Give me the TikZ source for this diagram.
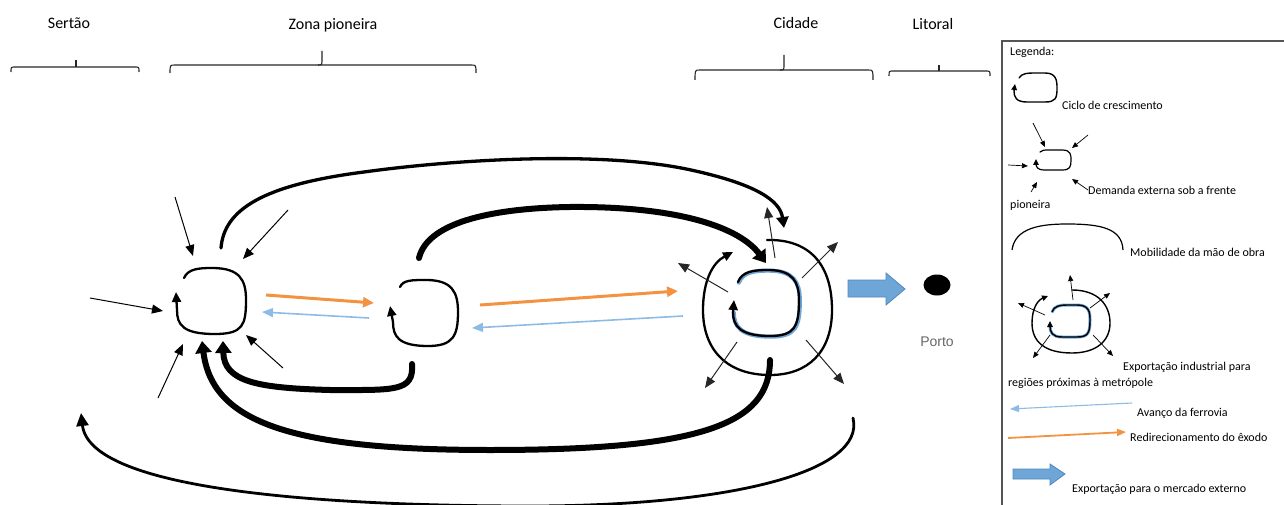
\documentclass[tikz,border=0pt]{standalone}
\usepackage{fontspec}
\setmainfont{Carlito}
\newfontfamily\portofont{Liberation Sans}
\usetikzlibrary{arrows.meta,shapes.geometric}
\definecolor{exodo}{HTML}{F39240}
\definecolor{ferrovia}{HTML}{8DBBE6}
\definecolor{exportblue}{HTML}{6FA6D8}
\definecolor{exportedge}{HTML}{4F86BF}
\definecolor{legframe}{HTML}{555555}

\begin{document}
\begin{tikzpicture}[x=1pt,y=-1pt,
  header/.style={font=\fontsize{16}{18}\selectfont, inner sep=0pt},
  legtext/.style={font=\fontsize{12}{14}\selectfont, anchor=west, inner sep=0pt},
  bracket/.style={line width=1.1pt, draw=black!85},
  growloop/.style={line width=2.3pt, line cap=round, -{Triangle[length=10pt,width=9pt]}},
  minigrow/.style={line width=1.4pt, line cap=round, -{Triangle[length=6pt,width=5.5pt]}},
  push/.style={line width=1pt, -{Triangle[length=11pt,width=9pt]}},
  minipush/.style={line width=0.7pt, -{Triangle[length=6pt,width=5pt]}},
  flow/.style={line width=6pt, line cap=round, -{Triangle[length=12pt,width=16pt]}},
  midflow/.style={line width=3.3pt, line cap=round, -{Triangle[length=11pt,width=12pt]}},
  longflow/.style={line width=2.8pt, line cap=round, -{Triangle[length=13pt,width=12pt]}},
  exodus/.style={draw=exodo, line width=3pt, -{Triangle[length=11pt,width=10pt]}},
  railway/.style={draw=ferrovia, line width=1.6pt, -{Triangle[length=11pt,width=9pt]}},
  blockarrow/.style={fill=exportblue, draw=exportedge, line width=0.8pt},
]
\useasboundingbox (0,0) rectangle (1284,505);

% ---------- region headers and brackets ----------
\node[header] (hsertao) at (69,23) {Sertão};
\node[header] (hzona)   at (333,25) {Zona pioneira};
\node[header] (hcidade) at (796,23) {Cidade};
\node[header] (hlitoral) at (933,24) {Litoral};

\draw[bracket] (11,72) .. controls (11,67) .. (15,67) -- (135,67) .. controls (139,67) .. (139,72);
\draw[bracket] (76,67) -- (76,60);
\draw[bracket] (170,73) .. controls (170,65) .. (175,65) -- (471,65) .. controls (476,65) .. (476,73);
\draw[bracket] (318,65) .. controls (322,65) .. (322,59) -- (322,51);
\draw[bracket] (695,80) .. controls (695,70) .. (700,70) -- (868,70) .. controls (873,70) .. (873,80);
\draw[bracket] (780,70) .. controls (784,70) .. (784,64) -- (784,55);
\draw[bracket] (889,76) .. controls (889,71) .. (893,71) -- (986,71) .. controls (990,71) .. (990,76);
\draw[bracket] (939,71) -- (939,65);

% ---------- anchor points of the three growth cycles ----------
\coordinate (sertao) at (212,301);
\coordinate (zona) at (425,312);
\coordinate (cidade) at (767,305);

% ---------- growth cycle: sertão ----------
\draw[growloop] (184,278) .. controls (188,269) and (198,268) .. (212,268)
  .. controls (240,268) and (246,280) .. (246,300) .. controls (246,325) and (243,334) .. (215,334)
  .. controls (183,334) and (177,325) .. (177,310) -- (176,292);

% external demand pushing on the sertão cycle
\coordinate (dN1) at (175,197);  \coordinate (dN1t) at (193,256);
\coordinate (dN2) at (288,210);  \coordinate (dN2t) at (243,259);
\coordinate (dW)  at (90,298);   \coordinate (dWt)  at (163,311);
\coordinate (dS1) at (158,398);  \coordinate (dS1t) at (183,344);
\coordinate (dS2) at (283,368);  \coordinate (dS2t) at (246,335);
\draw[push] (dN1) -- (dN1t);
\draw[push] (dN2) -- (dN2t);
\draw[push] (dW) -- (dWt);
\draw[push] (dS1) -- (dS1t);
\draw[push] (dS2) -- (dS2t);

% ---------- growth cycle: zona pioneira ----------
\draw[growloop] (400,287) .. controls (403,280) and (412,280) .. (426,280)
  .. controls (452,280) and (458,292) .. (458,312) .. controls (458,336) and (453,346) .. (428,346)
  .. controls (398,346) and (393,336) .. (393,322) -- (390,306);

% ---------- growth cycle: cidade (industrial export) ----------
\draw[exportblue, line width=4.2pt, line cap=round, xshift=0.8pt, yshift=-0.6pt] (738,282) .. controls (742,272) and (752,270) .. (768,270)
  .. controls (793,270) and (799,282) .. (799,300) .. controls (799,326) and (795,336) .. (770,336)
  .. controls (740,336) and (733,326) .. (733,312);
\draw[growloop, line width=2.3pt] (738,282) .. controls (742,272) and (752,270) .. (768,270)
  .. controls (793,270) and (799,282) .. (799,300) .. controls (799,326) and (795,336) .. (770,336)
  .. controls (740,336) and (733,326) .. (733,312) -- (734,300);
\draw[growloop] (767,240) .. controls (810,239) and (832,265) .. (832,310) .. controls (832,352) and (808,375) .. (770,375)
  .. controls (727,375) and (703,350) .. (703,310) .. controls (703,282) and (712,263) .. (733,252);

% industrial export to nearby regions
\coordinate (eU) at (775,258);   \coordinate (eUt) at (767,207);
\coordinate (eUL) at (728,292);  \coordinate (eULt) at (678,263);
\coordinate (eUR) at (802,278);  \coordinate (eURt) at (838,242);
\coordinate (eDL) at (737,342);  \coordinate (eDLt) at (705,388);
\coordinate (eDR) at (806,340);  \coordinate (eDRt) at (844,384);
\draw[push, draw=black!85] (eU) -- (eUt);
\draw[push, draw=black!85] (eUL) -- (eULt);
\draw[push, draw=black!85] (eUR) -- (eURt);
\draw[push, draw=black!85] (eDL) -- (eDLt);
\draw[push, draw=black!85] (eDR) -- (eDRt);

% ---------- labour mobility ----------
\coordinate (mA) at (221,248);  \coordinate (mAt) at (784,228);
\coordinate (mB) at (419,258);  \coordinate (mBt) at (766,263);
\coordinate (mC) at (412,364);  \coordinate (mCt) at (223,341);
\coordinate (mD) at (770,360);  \coordinate (mDt) at (202,341);
\coordinate (mE) at (853,418);  \coordinate (mEt) at (81,413);
\draw[midflow] (mA) .. controls (224,210) and (262,185) .. (364,172)
  .. controls (450,160) and (600,150) .. (691,170) .. controls (755,184) and (780,200) .. (mAt);
\draw[flow] (mB) .. controls (428,220) and (500,208) .. (570,207)
  .. controls (680,206) and (740,228) .. (mBt);
\draw[flow] (mC) .. controls (414,392) and (395,390) .. (330,390)
  .. controls (258,388) and (224,382) .. (mCt);
\draw[flow] (mD) .. controls (770,425) and (700,450) .. (490,450)
  .. controls (285,450) and (212,420) .. (mDt);
\draw[longflow] (mE) .. controls (866,472) and (730,506) .. (530,506)
  .. controls (320,506) and (90,490) .. (mEt);

% ---------- exodus redirection and railway advance ----------
\coordinate (x1) at (266,295);  \coordinate (x1t) at (374,303);
\coordinate (x2) at (480,305);  \coordinate (x2t) at (678,291);
\coordinate (r1) at (369,318);  \coordinate (r1t) at (262,312);
\coordinate (r2) at (683,316);  \coordinate (r2t) at (472,328);
\draw[exodus] (x1) -- (x1t);
\draw[exodus] (x2) -- (x2t);
\draw[railway] (r1) -- (r1t);
\draw[railway] (r2) -- (r2t);

% ---------- export to the external market ----------
\draw[blockarrow] (848,280) -- (886,280) -- (886,273) -- (905,289) -- (886,305) -- (886,297) -- (848,297) -- cycle;
\node[ellipse, fill=black, minimum width=27pt, minimum height=21pt, inner sep=0pt] (porto) at (937,285) {};
\node[font=\portofont\fontsize{14}{16}\selectfont, text=black!60, inner sep=0pt] (lporto) at (937,342) {Porto};

% ---------- legend ----------
\draw[legframe, line width=1.6pt] (1002,41) rectangle (1295,515);
\node[legtext] (lleg) at (1010,52) {Legenda:};

\draw[minigrow] (1019,78) .. controls (1022,73) and (1028,73) .. (1035,73) -- (1045,73)
  .. controls (1056,73) and (1057,80) .. (1057,88) .. controls (1057,98) and (1056,102) .. (1045,102)
  -- (1027,102) .. controls (1016,102) and (1014,97) .. (1014,91) -- (1015,84);
\node[legtext] (lciclo) at (1062,105) {Ciclo de crescimento};

\draw[minigrow, line width=1.2pt] (1040,152) .. controls (1043,150) .. (1050,150) -- (1062,150)
  .. controls (1071,150) and (1071,155) .. (1071,160) .. controls (1071,167) and (1070,170) .. (1062,170)
  -- (1045,170) .. controls (1037,170) and (1036,167) .. (1036,163) -- (1036,159);
\coordinate (ld1) at (1033,123); \coordinate (ld1t) at (1045,147);
\coordinate (ld2) at (1088,135); \coordinate (ld2t) at (1072,148);
\coordinate (ld3) at (1008,165); \coordinate (ld3t) at (1028,166);
\coordinate (ld4) at (1031,192); \coordinate (ld4t) at (1037,182);
\coordinate (ld5) at (1088,190); \coordinate (ld5t) at (1072,179);
\foreach \s in {ld1,ld2,ld3,ld4,ld5} \draw[minipush] (\s) -- (\s t);
\node[legtext] (ldem1) at (1088,190) {Demanda externa sob a frente};
\node[legtext] (ldem2) at (1010,205) {pioneira};

\draw[line width=1.2pt] (1012,250) .. controls (1015,228) and (1040,224) .. (1067,224)
  .. controls (1100,224) and (1122,228) .. (1123,250);
\node[legtext] (lmob) at (1130,252) {Mobilidade da mão de obra};

\draw[exportblue, line width=3pt] (1052,312) .. controls (1054,306) and (1060,305) .. (1067,305) -- (1077,305)
  .. controls (1089,305) and (1090,312) .. (1090,320) .. controls (1090,333) and (1088,337) .. (1077,337)
  -- (1062,337) .. controls (1052,337) and (1050,332) .. (1050,326);
\draw[minigrow] (1052,312) .. controls (1054,306) and (1060,305) .. (1067,305) -- (1077,305)
  .. controls (1089,305) and (1090,312) .. (1090,320) .. controls (1090,333) and (1088,337) .. (1077,337)
  -- (1062,337) .. controls (1052,337) and (1050,332) .. (1050,326) -- (1050,321);
\draw[minigrow] (1072,290) .. controls (1098,290) and (1110,305) .. (1110,323)
  .. controls (1110,342) and (1095,353) .. (1072,353) .. controls (1045,353) and (1032,342) .. (1032,323)
  .. controls (1032,308) and (1038,300) .. (1048,296);
\coordinate (le1) at (1073,300); \coordinate (le1t) at (1070,275);
\coordinate (le2) at (1045,315); \coordinate (le2t) at (1018,303);
\coordinate (le3) at (1090,308); \coordinate (le3t) at (1110,293);
\coordinate (le4) at (1050,335); \coordinate (le4t) at (1033,358);
\coordinate (le5) at (1093,335); \coordinate (le5t) at (1113,356);
\foreach \s in {le1,le2,le3,le4,le5} \draw[minipush] (\s) -- (\s t);
\node[legtext] (lexp1) at (1123,367) {Exportação industrial para};
\node[legtext] (lexp2) at (1008,383) {regiões próximas à metrópole};

\coordinate (lr) at (1132,403); \coordinate (lrt) at (1010,409);
\draw[railway, line width=1.1pt, -{Triangle[length=9pt,width=7pt]}] (lr) -- (lrt);
\node[legtext] (lrail) at (1137,413) {Avanço da ferrovia};

\coordinate (lx) at (1008,438); \coordinate (lxt) at (1126,432);
\draw[exodus, line width=1.8pt, -{Triangle[length=9pt,width=7pt]}] (lx) -- (lxt);
\node[legtext] (lexo) at (1130,437) {Redirecionamento do êxodo};

\draw[blockarrow] (1013,469) -- (1050,469) -- (1050,464) -- (1065,474) -- (1050,485) -- (1050,479) -- (1013,479) -- cycle;
\node[legtext] (lmerc) at (1072,489) {Exportação para o mercado externo};
\end{tikzpicture}
\end{document}
